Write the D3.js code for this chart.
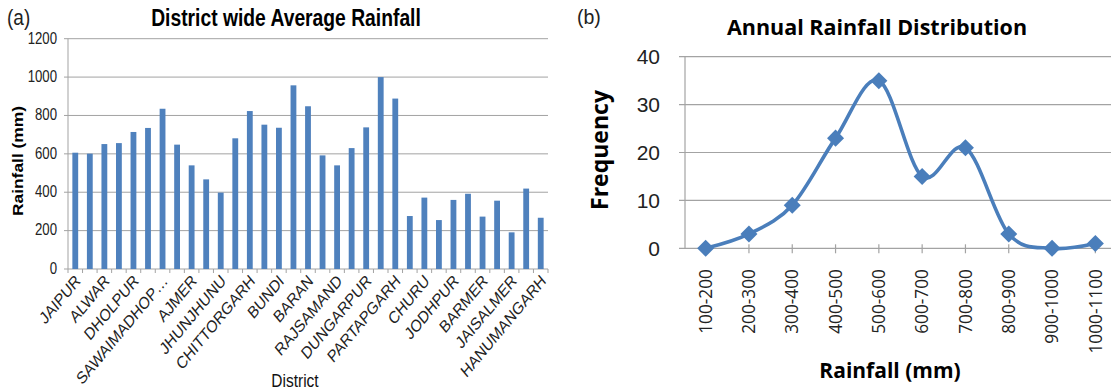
<!DOCTYPE html>
<html>
<head>
<meta charset="utf-8">
<script src="https://cdn.jsdelivr.net/npm/d3@7"></script>
<style>
  body { margin: 0; background: #fff; }
  svg { display: block; }
</style>
</head>
<body>
<svg id="fig" width="1111" height="391"></svg>
<script>
// DATA

var districts = ["JAIPUR","DAUSA","ALWAR","BHARATPUR","DHOLPUR","KARAULI","SAWAIMADHOP\u2026","TONK",
  "AJMER","SIKAR","JHUNJHUNU","BHILWARA","CHITTORGARH","KOTA","BUNDI","JHALAWAR","BARAN",
  "UDAIPUR","RAJSAMAND","BANSWARA","DUNGARPUR","SIROHI","PARTAPGARH","NAGAUR","CHURU",
  "PALI","JODHPUR","JALORE","BARMER","BIKANER","JAISALMER","GANGANAGAR","HANUMANGARH"];
var district_rain = [606,601,651,656,714,735,835,648,540,467,398,681,823,752,736,957,848,
  592,540,630,738,1000,888,276,372,255,360,392,273,356,191,419,267];
var rain_ticks = [0,200,400,600,800,1000,1200];

var classes = ["100-200","200-300","300-400","400-500","500-600","600-700","700-800","800-900","900-1000","1000-1100"];
var frequency = [0,3,9,23,35,15,21,3,0,1];
var freq_ticks = [0,10,20,30,40];

var svg = d3.select("#fig");
var grid_color = "#a3a3a3";
var bar_color = "#4f81bd";

// stretched text helper (left panel text is a bit taller than wide)
function stext(parent, x, y, rot, str, sy){
  return parent.append("text")
    .attr("transform", "translate(" + x + "," + y + ") scale(1," + (sy || 1.2) + ")" + (rot ? " rotate(" + rot + ")" : ""))
    .text(str);
}

// PANEL (a)

var a = svg.append("g").attr("font-family", "'Liberation Sans', Arial, sans-serif").attr("fill", "#000");
var ax0 = 68, ax1 = 548, ay0 = 38.7, ay1 = 269;

var xa = d3.scaleBand().domain(districts).range([ax0, ax1]).paddingInner(0.6).paddingOuter(0.3);
var ya = d3.scaleLinear().domain([0, 1200]).range([ay1, ay0]);

a.selectAll(".grid").data(rain_ticks).enter().append("line")
  .attr("x1", ax0).attr("x2", ax1)
  .attr("y1", function(d){ return ya(d); }).attr("y2", function(d){ return ya(d); })
  .attr("stroke", grid_color).attr("stroke-width", 1);

a.selectAll(".ytk").data(rain_ticks).enter().append("line")
  .attr("x1", ax0 - 4).attr("x2", ax0)
  .attr("y1", function(d){ return ya(d); }).attr("y2", function(d){ return ya(d); })
  .attr("stroke", grid_color);

a.append("line").attr("x1", ax0).attr("x2", ax0).attr("y1", ay0).attr("y2", ay1)
  .attr("stroke", grid_color);

a.selectAll(".bar").data(district_rain).enter().append("rect")
  .attr("x", function(d, i){ return xa(districts[i]); })
  .attr("width", xa.bandwidth())
  .attr("y", function(d){ return ya(d); })
  .attr("height", function(d){ return ay1 - ya(d); })
  .attr("fill", bar_color);

// tick marks between categories
var step = xa.step();
a.selectAll(".xtk").data(d3.range(districts.length + 1)).enter().append("line")
  .attr("x1", function(i){ return ax0 + i * step; }).attr("x2", function(i){ return ax0 + i * step; })
  .attr("y1", ay1).attr("y2", ay1 + 4)
  .attr("stroke", grid_color);

rain_ticks.forEach(function(t){
  stext(a, 57, ya(t) + 4.8, 0, t).attr("text-anchor", "end").attr("font-size", 13.2).attr("fill", "#222");
});

districts.forEach(function(d, i){
  if (i % 2 !== 0) return;
  stext(a, xa(d) + xa.bandwidth() / 2 + 6, ay1 + 13, -45, d, 1.2)
    .attr("text-anchor", "end").attr("font-size", 14.3).attr("fill", "#222");
});

stext(a, 286, 26, 0, "District wide Average Rainfall")
  .attr("text-anchor", "middle").attr("font-size", 19.3).attr("font-weight", "bold");
stext(a, 7, 25, 0, "(a)").attr("font-size", 19).attr("fill", "#222");
stext(a, 23, 161, -90, "Rainfall (mm)")
  .attr("text-anchor", "middle").attr("font-size", 14.5).attr("font-weight", "bold");
stext(a, 295, 387, 0, "District").attr("text-anchor", "middle").attr("font-size", 15.5).attr("fill", "#111");

// PANEL (b)

var b = svg.append("g").attr("fill", "#000");
var bx0 = 685, bx1 = 1111, by0 = 56.7, by1 = 248.3;

var xb = d3.scaleBand().domain(classes).range([684, 1117]);
var yb = d3.scaleLinear().domain([0, 40]).range([by1, by0]);
var cx = function(d){ return xb(d) + xb.bandwidth() / 2; };

b.selectAll(".grid").data(freq_ticks).enter().append("line")
  .attr("x1", bx0 - 6).attr("x2", bx1)
  .attr("y1", function(d){ return yb(d); }).attr("y2", function(d){ return yb(d); })
  .attr("stroke", grid_color).attr("stroke-width", 1.2);

b.append("line").attr("x1", bx0).attr("x2", bx0).attr("y1", by0).attr("y2", by1)
  .attr("stroke", grid_color).attr("stroke-width", 1.2);

b.selectAll(".xtk").data(classes).enter().append("line")
  .attr("x1", cx).attr("x2", cx)
  .attr("y1", by1 - 4).attr("y2", by1 + 5)
  .attr("stroke", grid_color).attr("stroke-width", 1.2);

var line = d3.line()
  .x(function(d, i){ return cx(classes[i]); })
  .y(function(d){ return yb(d); })
  .curve(d3.curveCardinal.tension(0));

b.append("path").datum(frequency)
  .attr("d", line)
  .attr("fill", "none").attr("stroke", "#4a7ebb").attr("stroke-width", 3.6);

b.selectAll(".mk").data(frequency).enter().append("path")
  .attr("d", d3.symbol().type(d3.symbolDiamond2).size(185))
  .attr("transform", function(d, i){ return "translate(" + cx(classes[i]) + "," + yb(d) + ")"; })
  .attr("fill", "#4a7ebb");

b.selectAll(".ylab").data(freq_ticks).enter().append("text")
  .attr("x", 660).attr("y", function(d){ return yb(d); }).attr("dy", "0.36em")
  .attr("text-anchor", "end")
  .attr("font-family", "'Liberation Sans', Arial, sans-serif").attr("font-size", 21).attr("fill", "#222")
  .text(function(d){ return d; });

b.selectAll(".xlab").data(classes).enter().append("text")
  .attr("transform", function(d){ return "translate(" + cx(d) + "," + 269 + ") rotate(-90)"; })
  .attr("dy", "0.36em")
  .attr("text-anchor", "end")
  .attr("font-family", "'Open Sans', sans-serif").attr("font-size", 17.3).attr("fill", "#222")
  .text(function(d){ return d; });

b.append("text").attr("x", 877).attr("y", 35).attr("text-anchor", "middle")
  .attr("font-family", "'Open Sans', sans-serif").attr("font-size", 21.5).attr("font-weight", "bold")
  .text("Annual Rainfall Distribution");

b.append("text").attr("x", 577).attr("y", 24)
  .attr("font-family", "'Liberation Sans', Arial, sans-serif").attr("font-size", 19.5).attr("fill", "#222")
  .text("(b)");

b.append("text").attr("transform", "translate(608,150) rotate(-90)").attr("text-anchor", "middle")
  .attr("font-family", "'Open Sans', sans-serif").attr("font-size", 23).attr("font-weight", "bold")
  .text("Frequency");

b.append("text").attr("x", 890).attr("y", 378).attr("text-anchor", "middle")
  .attr("font-family", "'Open Sans', sans-serif").attr("font-size", 21).attr("font-weight", "bold")
  .text("Rainfall (mm)");
</script>
</body>
</html>
